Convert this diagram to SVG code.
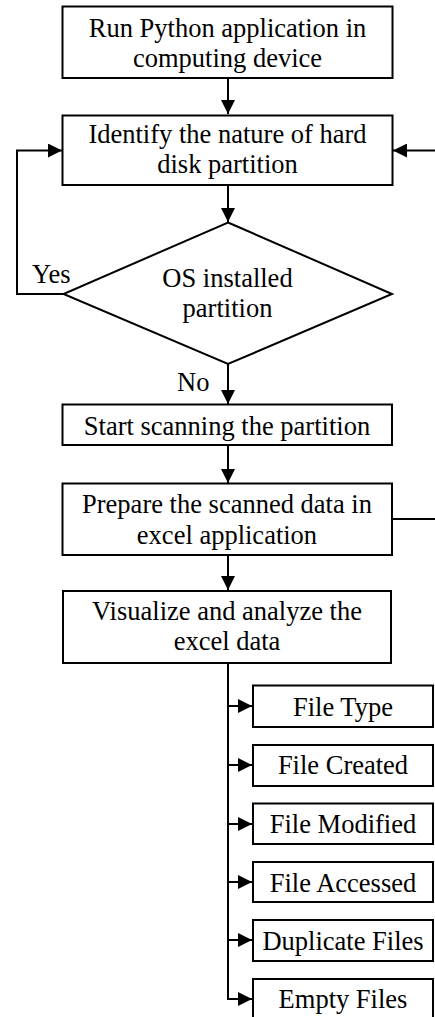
<svg xmlns="http://www.w3.org/2000/svg" width="435" height="1017" viewBox="0 0 435 1017">
<style>
.box{fill:#fff;stroke:#000;stroke-width:2}
.t{font-family:"Liberation Serif","Times New Roman",serif;font-size:26.5px;fill:#000;text-anchor:middle}
.tl{font-family:"Liberation Serif","Times New Roman",serif;font-size:26.5px;fill:#000}
.c{fill:none;stroke:#000;stroke-width:2}
</style>
<defs>
<marker id="ah" markerWidth="14" markerHeight="14" viewBox="0 0 14 14" refX="14" refY="7" orient="auto" markerUnits="userSpaceOnUse">
<path d="M0,0 L14,7 L0,14 Z" fill="#000"/>
</marker>
</defs>
<rect width="435" height="1017" fill="#fff"/>
<g id="connectors">
<path class="c" d="M228,78 V114" marker-end="url(#ah)"/>
<path class="c" d="M228,185 V222" marker-end="url(#ah)"/>
<path class="c" d="M63,294 H17 V150.5 H62" marker-end="url(#ah)"/>
<path class="c" d="M228,364 V404" marker-end="url(#ah)"/>
<path class="c" d="M228,445 V483" marker-end="url(#ah)"/>
<path class="c" d="M228,555 V590" marker-end="url(#ah)"/>
<path class="c" d="M392,519 H440 V150.5 H393" marker-end="url(#ah)"/>
<path class="c" d="M228,663 V999 H252"  marker-end="url(#ah)"/>
<path class="c" d="M228,706 H252" marker-end="url(#ah)"/>
<path class="c" d="M228,765 H252" marker-end="url(#ah)"/>
<path class="c" d="M228,824 H252" marker-end="url(#ah)"/>
<path class="c" d="M228,882 H252" marker-end="url(#ah)"/>
<path class="c" d="M228,940 H252" marker-end="url(#ah)"/>
<text class="tl" x="32" y="283">Yes</text>
<text class="tl" x="177" y="390.5">No</text>
</g>
<g id="n1">
<rect class="box" x="62.5" y="6.5" width="330" height="71.5"/>
<text class="t" x="227.5" y="36.7">Run Python application in</text>
<text class="t" x="227.5" y="66.7">computing device</text>
</g>
<g id="n2">
<rect class="box" x="62.5" y="115.5" width="330" height="69.5"/>
<text class="t" x="227.5" y="143.3">Identify the nature of hard</text>
<text class="t" x="227.5" y="173.3">disk partition</text>
</g>
<g id="n3">
<polygon class="box" points="228,222.5 392,294 228,364 63.5,294"/>
<text class="t" x="227.5" y="287.3">OS installed</text>
<text class="t" x="227.5" y="317">partition</text>
</g>
<g id="n4">
<rect class="box" x="62.5" y="404.5" width="329.5" height="40.5"/>
<text class="t" x="227" y="435">Start scanning the partition</text>
</g>
<g id="n5">
<rect class="box" x="62.5" y="483.5" width="329.5" height="71.5"/>
<text class="t" x="227" y="513.3">Prepare the scanned data in</text>
<text class="t" x="227" y="544">excel application</text>
</g>
<g id="n6">
<rect class="box" x="63" y="591" width="328" height="72"/>
<text class="t" x="227" y="620">Visualize and analyze the</text>
<text class="t" x="227" y="650">excel data</text>
</g>
<g id="n7">
<rect class="box" x="253" y="685.5" width="180" height="41.5"/>
<text class="t" x="343" y="715.7">File Type</text>
</g>
<g id="n8">
<rect class="box" x="253" y="745" width="180" height="41"/>
<text class="t" x="343" y="774">File Created</text>
</g>
<g id="n9">
<rect class="box" x="253" y="803.5" width="180" height="40.5"/>
<text class="t" x="343" y="833">File Modified</text>
</g>
<g id="n10">
<rect class="box" x="253" y="862" width="180" height="40"/>
<text class="t" x="343" y="891.7">File Accessed</text>
</g>
<g id="n11">
<rect class="box" x="253" y="920" width="180" height="41"/>
<text class="t" x="343" y="950">Duplicate Files</text>
</g>
<g id="n12">
<rect class="box" x="253" y="979" width="180" height="42"/>
<text class="t" x="343" y="1008">Empty Files</text>
</g>
</svg>
